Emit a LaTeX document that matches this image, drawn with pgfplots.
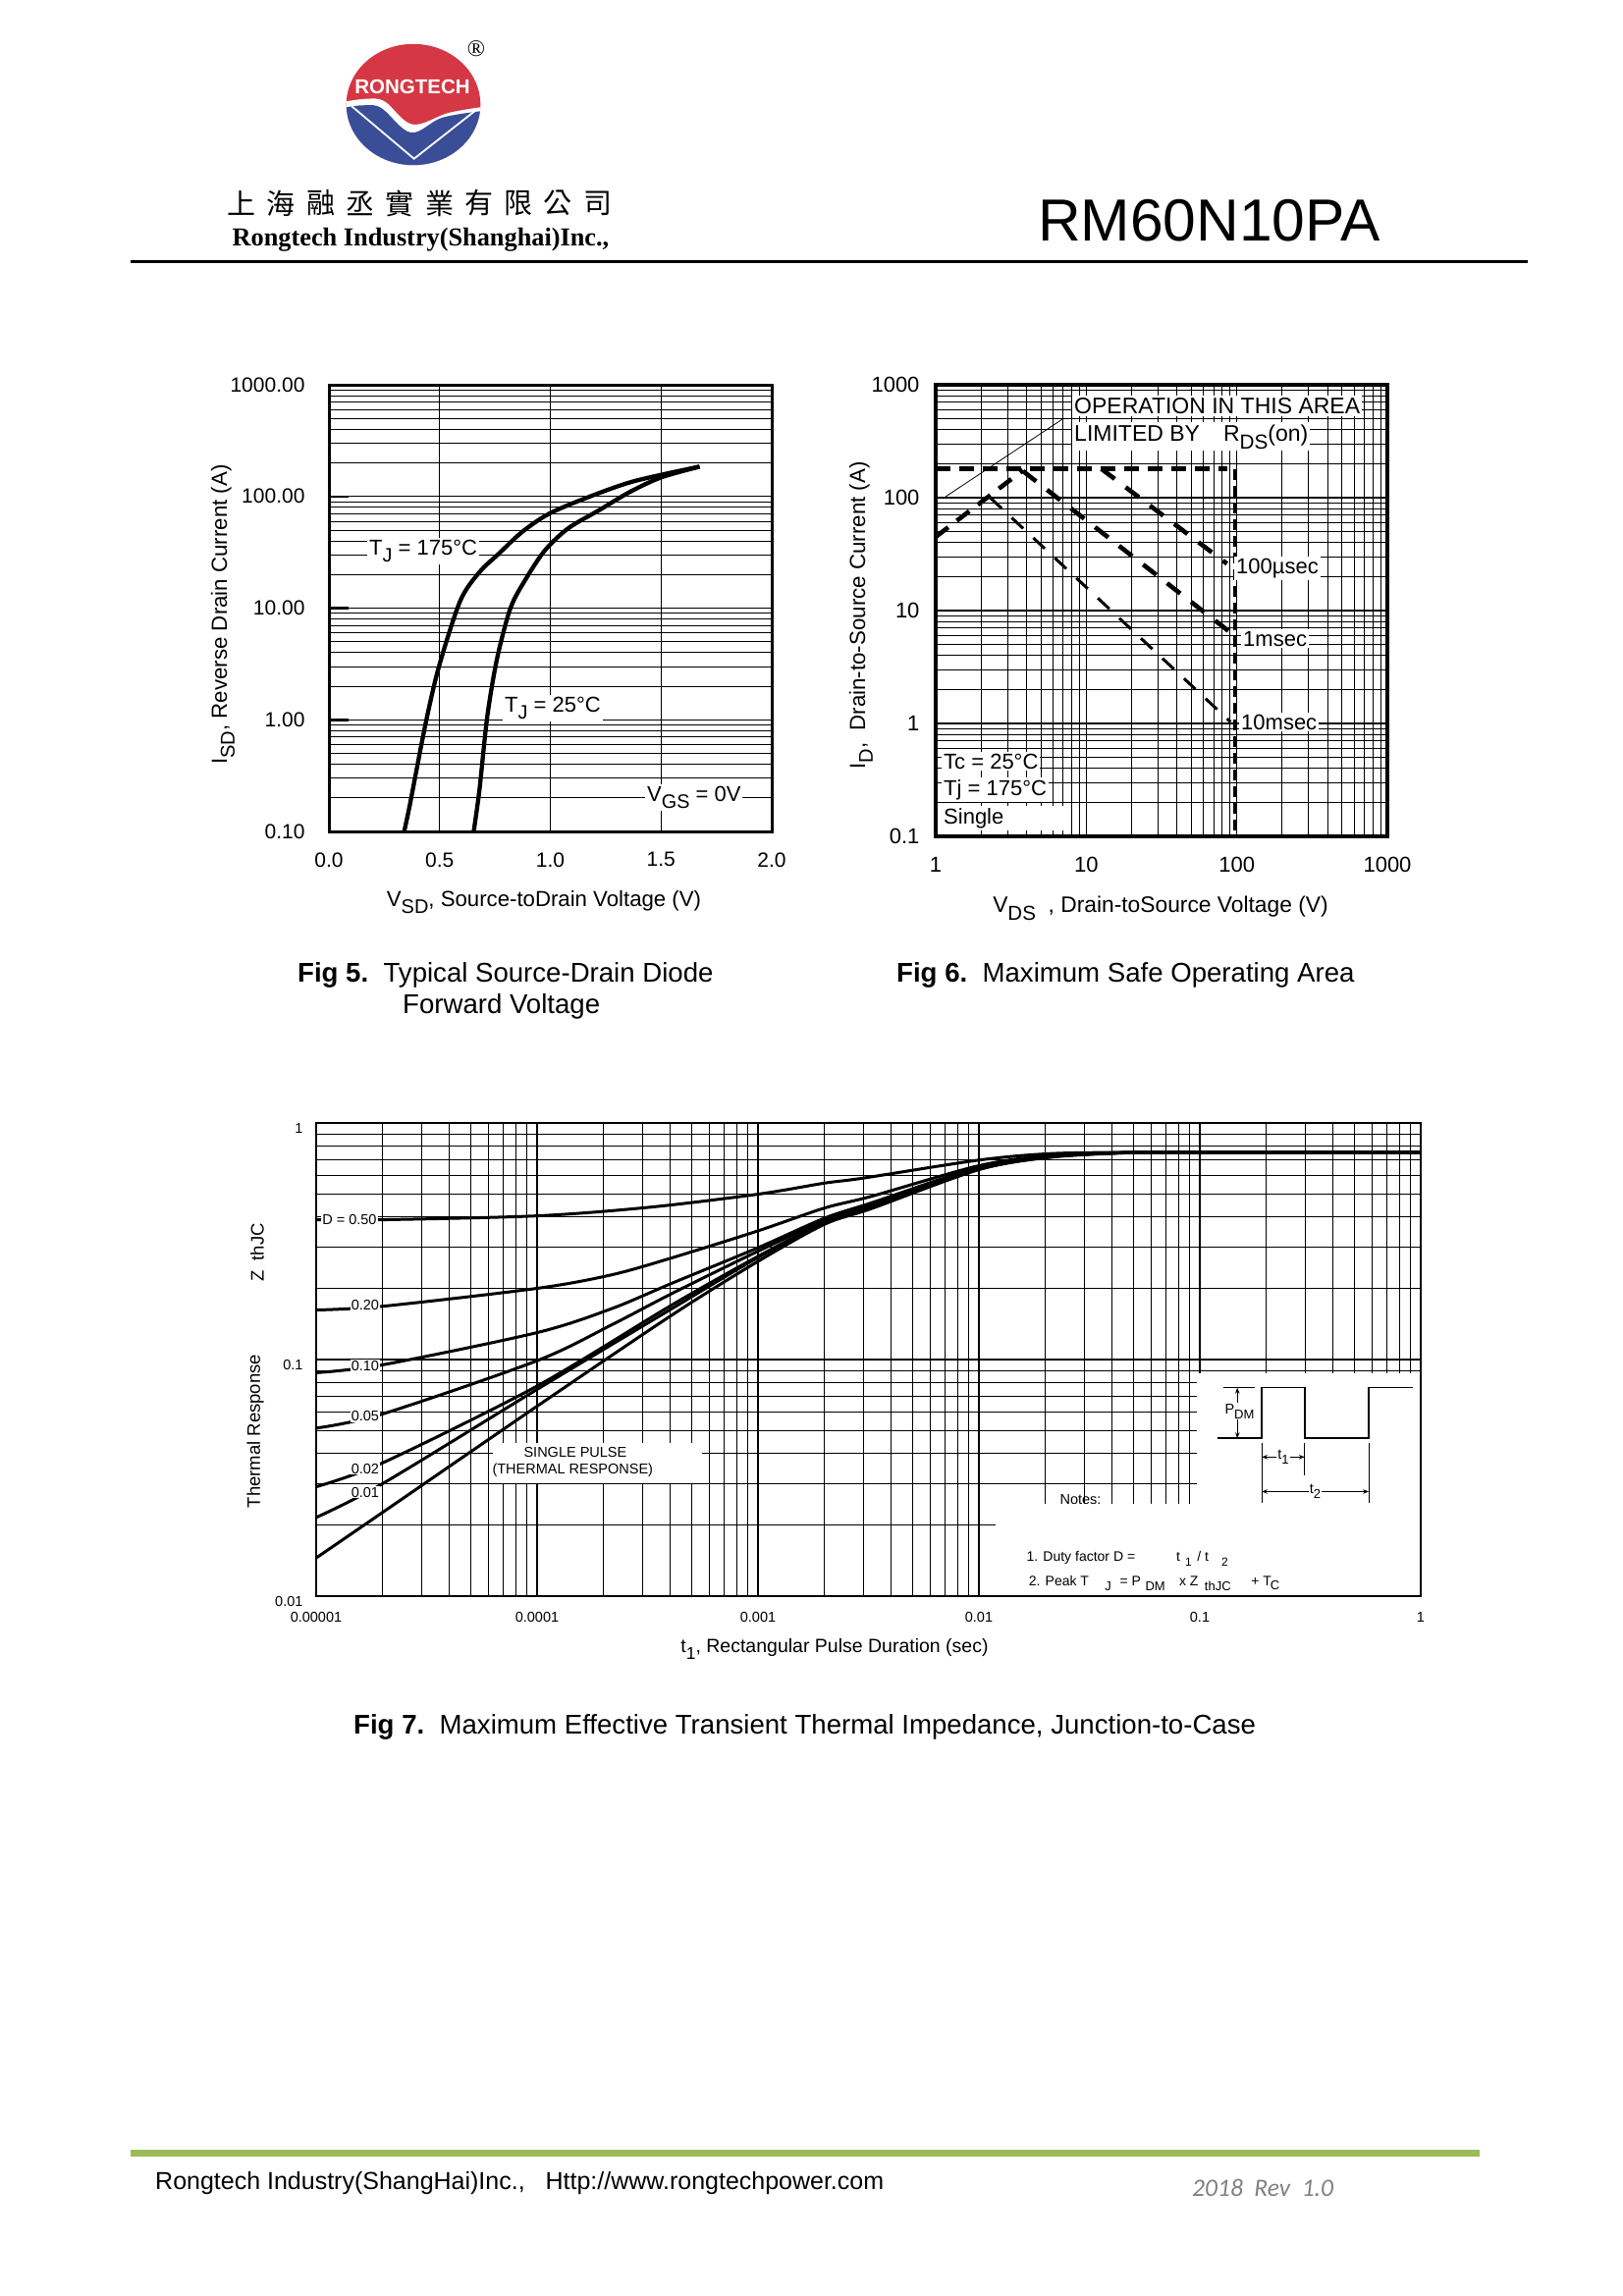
\documentclass[border=0pt]{standalone}
\usepackage{pgfplots}
\pgfplotsset{compat=1.18}
\usepackage{graphicx}
\usepackage{fontspec}
\setmainfont{Liberation Sans}
\newfontfamily\tnr{Liberation Serif}
\newfontfamily\cjk{Noto Sans CJK TC}
\newfontfamily\carlito{Carlito}
\usetikzlibrary{arrows.meta}
\definecolor{logored}{RGB}{214,55,68}
\definecolor{logoblue}{RGB}{58,78,152}
\definecolor{footgreen}{RGB}{155,187,89}
\newcommand{\fs}[1]{\fontsize{#1}{#1}\selectfont}
\newcommand{\sub}[1]{\raisebox{-0.35em}{\scalebox{0.9}{#1}}}
\tikzset{t/.style={inner sep=0pt}, wl/.style={fill=white, inner sep=2pt}}
\begin{document}
\begin{tikzpicture}[x=1pt,y=1pt]
\fill[white] (0,0) rectangle (1653,-2339);
% ---------------- header / logo
\begin{scope}
\clip (421,-106.5) ellipse [x radius=68.3pt, y radius=61.7pt];
\fill[logored] (340,-30) rectangle (500,-180);
\fill[white] (340,-103.3) -- plot[smooth, tension=0.6] coordinates {(353,-103.3) (373.3,-100.7) (391.7,-103.3) (420,-126.7) (456.7,-115) (489.3,-109.3)} -- (500,-109.3) -- (500,-180) -- (340,-180) -- cycle;
\fill[logoblue] (340,-109.3) -- plot[smooth, tension=0.6] coordinates {(352.7,-109.3) (370,-107.3) (388.3,-110) (418.3,-135) (450,-120) (489.3,-113.3)} -- (500,-113.3) -- (500,-180) -- (340,-180) -- cycle;
\draw[white, line width=1.8pt] (358,-108) -- (421.7,-161.7) -- (485,-112);
\end{scope}
\node[t, text=white, font=\fs{20.5}\bfseries] at (420,-88) {RONGTECH};
\node[t, font=\tnr\fs{24}] at (485,-50) {®};
\foreach \ch [count=\i from 0] in {上,海,融,丞,實,業,有,限,公,司}
  \node[t, font=\cjk\fs{29}] at (246+\i*40.3,-207) {\ch};
\node[t, anchor=base, font=\tnr\bfseries\fs{26.3}] at (428.5,-250) {Rongtech Industry(Shanghai)Inc.,};
\node[t, font=\fs{60.5}] at (1231.5,-225) {RM60N10PA};
\draw[line width=3pt] (133,-266) -- (1556,-266);

% ---------------- Fig 5
\begin{axis}[
  at={(335pt,-847pt)}, anchor=south west, scale only axis,
  width=451pt, height=455pt,
  xmin=0, xmax=2, ymode=log, ymin=0.1, ymax=1000,
  xtick={0,0.5,1,1.5,2}, xticklabels={0.0,0.5,1.0,1.5,2.0},
  ytick={0.1,1,10,100,1000}, yticklabels={0.10,1.00,10.00,100.00,1000.00},
  grid=both,
  major grid style={black, line width=1pt},
  minor grid style={black, line width=0.8pt},
  axis line style={line width=3pt},
  tick align=inside, major tick length=20pt, minor tick length=0pt,
  xtick style={draw=none}, ytick style={black, line width=2.5pt},
  ytick pos=left,
  tick label style={font=\fs{21}},
  yticklabel style={xshift=-21pt},
  xticklabel style={yshift=-18pt},
]
\addplot[black, no markers, line width=4.3pt, smooth] coordinates {(0.340,0.1) (0.366,0.175) (0.436,0.91) (0.497,3.0) (0.593,11.6) (0.680,21) (0.767,30.7) (0.872,48) (0.994,70) (1.168,98) (1.378,137) (1.674,185)};
\addplot[black, no markers, line width=4.3pt, smooth] coordinates {(0.654,0.1) (0.680,0.237) (0.715,1.06) (0.759,3.5) (0.820,10) (0.889,18.2) (0.976,33) (1.081,51.9) (1.221,75.5) (1.360,110) (1.500,148) (1.674,185)};
\end{axis}
\node[wl, anchor=base west, font=\fs{22}] at (374,-565) {T\sub{J} = 175°C};
\node[wl, anchor=base west, font=\fs{22}] at (512,-725) {T\sub{J} = 25°C};
\node[wl, anchor=base west, font=\fs{22}] at (657,-816) {V\sub{GS} = 0V};
\draw[line width=3pt] (335,-847) rectangle (786,-392);
\node[t, rotate=90, font=\fs{22.3}] at (227,-626) {I\sub{SD}, Reverse Drain Current (A)};
\node[t, font=\fs{22.2}] at (554,-919) {V\sub{SD}, Source-toDrain Voltage (V)};

% ---------------- Fig 6
\begin{axis}[
  at={(953pt,-852pt)}, anchor=south west, scale only axis,
  width=460pt, height=460pt,
  xmode=log, ymode=log, xmin=1, xmax=1000, ymin=0.1, ymax=1000,
  xtick={1,10,100,1000}, xticklabels={1,10,100,1000},
  ytick={0.1,1,10,100,1000}, yticklabels={0.1,1,10,100,1000},
  grid=both,
  major grid style={black, line width=1.2pt},
  minor grid style={black, line width=0.8pt},
  axis line style={line width=3.5pt},
  tick align=inside, major tick length=20pt, minor tick length=0pt,
  xtick style={draw=none}, ytick style={black, line width=2.5pt}, ytick pos=left,
  tick label style={font=\fs{22}},
  yticklabel style={xshift=-13pt},
  xticklabel style={yshift=-18pt},
]
\addplot[black, no markers, line width=4.6pt, dash pattern=on 15pt off 9pt] coordinates {(1,180) (86,180)};
\addplot[black, no markers, line width=4pt, dash pattern=on 11pt off 6pt] coordinates {(98,180) (98,0.1)};
\addplot[black, no markers, line width=4.6pt, dash pattern=on 16pt off 11pt] coordinates {(1,45) (3.8,175)};
\addplot[black, no markers, line width=4.6pt, dash pattern=on 17pt off 14pt] coordinates {(12.6,180) (86,26)};
\addplot[black, no markers, line width=4.6pt, dash pattern=on 17pt off 14pt] coordinates {(3.8,172) (88,6.6)};
\addplot[black, no markers, line width=3pt, dash pattern=on 16pt off 14pt] coordinates {(2.3,100) (91,1.03)};
\end{axis}
\draw[line width=0.8pt] (963,-506) -- (1083,-426.4);
\node[wl, anchor=base west, font=\fs{23}] at (1092,-421.5) {OPERATION IN THIS AREA};
\node[wl, anchor=base west, font=\fs{23}] at (1092,-449) {LIMITED BY\hspace{24pt}R\sub{DS}(on)};
\node[wl, anchor=base west, font=\fs{22}] at (1257,-584) {100µsec};
\node[wl, anchor=base west, font=\fs{22}] at (1264,-658) {1msec};
\node[wl, anchor=base west, font=\fs{22}] at (1262,-743) {10msec};
\node[wl, anchor=base west, font=\fs{22}] at (959,-783) {Tc = 25°C};
\node[wl, anchor=base west, font=\fs{22}] at (959,-810) {Tj = 175°C};
\node[wl, anchor=base west, font=\fs{22}, text width=120pt] at (959,-839) {Single};
\draw[line width=3.5pt] (953,-852) rectangle (1413,-392);
\node[t, rotate=90, font=\fs{22.3}] at (877,-627) {I\sub{D},\ \ Drain-to-Source Current (A)};
\node[t, font=\fs{22.8}] at (1182,-925) {V\sub{DS}\ \ , Drain-toSource Voltage (V)};

% captions
\node[t, anchor=base west, font=\fs{27.6}] at (303,-1000) {\textbf{Fig 5.}\ \ Typical Source-Drain Diode};
\node[t, anchor=base west, font=\fs{27.6}] at (410,-1032) {Forward Voltage};
\node[t, anchor=base west, font=\fs{27.6}] at (913,-1000) {\textbf{Fig 6.}\ \ Maximum Safe Operating Area};

% ---------------- Fig 7
\begin{axis}[
  at={(322pt,-1626pt)}, anchor=south west, scale only axis,
  width=1125pt, height=482pt,
  xmode=log, ymode=log, xmin=1e-5, xmax=1, ymin=0.01, ymax=1,
  xtick={1e-5,1e-4,1e-3,1e-2,1e-1,1}, xticklabels={0.00001,0.0001,0.001,0.01,0.1,1},
  ytick={0.01,0.1,1}, yticklabels={0.01,0.1,1},
  grid=both,
  major grid style={black, line width=1.1pt},
  minor grid style={black, line width=0.9pt},
  axis line style={line width=2.5pt},
  major tick length=0pt, minor tick length=0pt,
  tick label style={font=\fs{14.5}},
  yticklabel style={xshift=-10pt, yshift=-5pt},
  xticklabel style={yshift=-13pt},
]
\fill[white] (rel axis cs:0.615,0) rectangle (rel axis cs:1,0.195);
\fill[white] (rel axis cs:0.797,0) rectangle (rel axis cs:1,0.472);
\fill[white] (axis cs:6.3e-5,0.0299) rectangle (axis cs:5.56e-4,0.0444);
% D = 0.50
\addplot[black, no markers, line width=3pt, smooth] coordinates {(1e-5,0.39) (2e-5,0.39) (1e-4,0.405) (3.2e-4,0.44) (1e-3,0.50) (2e-3,0.557) (3e-3,0.585) (1e-2,0.697) (2.1e-2,0.742) (4.6e-2,0.751) (0.1,0.752) (0.3,0.752) (1,0.752)};
% D = 0.20
\addplot[black, no markers, line width=3pt, smooth] coordinates {(1e-5,0.162) (2e-5,0.168) (1e-4,0.20) (2.17e-4,0.228) (4.07e-4,0.269) (1e-3,0.35) (2e-3,0.437) (3.27e-3,0.49) (1e-2,0.66) (2.1e-2,0.73) (4.6e-2,0.75) (0.1,0.752) (0.3,0.752) (1,0.752)};
% D = 0.10
\addplot[black, no markers, line width=3pt, smooth] coordinates {(1e-5,0.088) (2e-5,0.095) (1e-4,0.13) (2.17e-4,0.164) (4.07e-4,0.21) (1e-3,0.297) (2e-3,0.396) (3.27e-3,0.46) (1e-2,0.65) (2.1e-2,0.725) (4.6e-2,0.75) (0.1,0.752) (0.3,0.752) (1,0.752)};
% D = 0.05
\addplot[black, no markers, line width=3pt, smooth] coordinates {(1e-5,0.0513) (2e-5,0.0589) (1e-4,0.0989) (2.17e-4,0.14) (4.07e-4,0.19) (1e-3,0.287) (2e-3,0.386) (3.27e-3,0.45) (1e-2,0.645) (2.1e-2,0.722) (4.6e-2,0.75) (0.1,0.752) (0.3,0.752) (1,0.752)};
% D = 0.02
\addplot[black, no markers, line width=3pt, smooth] coordinates {(1e-5,0.029) (2e-5,0.0366) (1e-4,0.0773) (4.07e-4,0.17) (1e-3,0.273) (2e-3,0.38) (3.27e-3,0.445) (1e-2,0.64) (2.1e-2,0.72) (4.6e-2,0.749) (0.1,0.752) (0.3,0.752) (1,0.752)};
% D = 0.01
\addplot[black, no markers, line width=3pt, smooth] coordinates {(1e-5,0.0215) (2e-5,0.0299) (1e-4,0.0748) (4.07e-4,0.164) (1e-3,0.27) (2e-3,0.376) (3.27e-3,0.44) (1e-2,0.637) (2.1e-2,0.718) (4.6e-2,0.748) (0.1,0.752) (0.3,0.752) (1,0.752)};
% single pulse
\addplot[black, no markers, line width=3pt, smooth] coordinates {(1e-5,0.0145) (2e-5,0.0226) (1e-4,0.0635) (4.07e-4,0.154) (1e-3,0.26) (2e-3,0.373) (3.27e-3,0.435) (1e-2,0.635) (2.1e-2,0.716) (4.6e-2,0.748) (0.1,0.752) (0.3,0.752) (1,0.752)};
% curve labels
\node[fill=white, inner sep=1pt, anchor=east, font=\fs{14.5}] at (axis cs:1.9e-5,0.39) {D = 0.50};
\node[fill=white, inner sep=1pt, anchor=east, font=\fs{14.5}] at (axis cs:1.95e-5,0.170) {0.20};
\node[fill=white, inner sep=1pt, anchor=east, font=\fs{14.5}] at (axis cs:1.95e-5,0.094) {0.10};
\node[fill=white, inner sep=1pt, anchor=east, font=\fs{14.5}] at (axis cs:1.95e-5,0.0575) {0.05};
\node[fill=white, inner sep=1pt, anchor=east, font=\fs{14.5}] at (axis cs:1.95e-5,0.0346) {0.02};
\node[fill=white, inner sep=1pt, anchor=east, font=\fs{14.5}] at (axis cs:1.95e-5,0.0275) {0.01};
\node[inner sep=0pt, font=\fs{14.5}] at (axis cs:1.49e-4,0.0407) {SINGLE PULSE};
\node[inner sep=0pt, font=\fs{14.5}] at (axis cs:1.45e-4,0.0340) {(THERMAL RESPONSE)};
% pulse diagram
\draw[line width=1.5pt] (rel axis cs:0.816,0.3336) -- (rel axis cs:0.856,0.3336) -- (rel axis cs:0.856,0.4405) -- (rel axis cs:0.895,0.4405) -- (rel axis cs:0.895,0.3336) -- (rel axis cs:0.953,0.3336) -- (rel axis cs:0.953,0.4405) -- (rel axis cs:0.993,0.4405);
\draw[line width=1.5pt] (rel axis cs:0.821,0.4405) -- (rel axis cs:0.850,0.4405);
\draw[line width=1pt, {Stealth[length=6pt]}-{Stealth[length=6pt]}] (rel axis cs:0.834,0.3336) -- (rel axis cs:0.834,0.4405);
\node[fill=white, inner sep=1pt, font=\fs{14.5}] at (rel axis cs:0.836,0.391) {P\sub{DM}};
\draw[line width=1pt] (rel axis cs:0.856,0.323) -- (rel axis cs:0.856,0.198);
\draw[line width=1pt] (rel axis cs:0.895,0.323) -- (rel axis cs:0.895,0.255);
\draw[line width=1pt] (rel axis cs:0.953,0.323) -- (rel axis cs:0.953,0.198);
\draw[line width=1pt, {Stealth[length=6pt]}-{Stealth[length=6pt]}] (rel axis cs:0.856,0.294) -- (rel axis cs:0.895,0.294);
\node[fill=white, inner sep=1pt, font=\fs{14.5}] at (rel axis cs:0.8755,0.294) {t\sub{1}};
\draw[line width=1pt, {Stealth[length=6pt]}-{Stealth[length=6pt]}] (rel axis cs:0.856,0.221) -- (rel axis cs:0.953,0.221);
\node[fill=white, inner sep=1pt, font=\fs{14.5}] at (rel axis cs:0.9045,0.221) {t\sub{2}};
\node[inner sep=0pt, font=\fs{14.5}] at (rel axis cs:0.692,0.205) {Notes:};
\node[inner sep=0pt, anchor=base west, font=\fs{14}] at (rel axis cs:0.643,0.073) {1. Duty factor D =};
\node[inner sep=0pt, anchor=base west, font=\fs{14}] at (rel axis cs:0.7785,0.073) {t};
\node[inner sep=0pt, anchor=base west, font=\fs{12}] at (rel axis cs:0.7865,0.063) {1};
\node[inner sep=0pt, anchor=base west, font=\fs{14}] at (rel axis cs:0.7975,0.073) {/ t};
\node[inner sep=0pt, anchor=base west, font=\fs{12}] at (rel axis cs:0.8196,0.063) {2};
\node[inner sep=0pt, anchor=base west, font=\fs{14}] at (rel axis cs:0.645,0.022) {2. Peak T};
\node[inner sep=0pt, anchor=base west, font=\fs{13}] at (rel axis cs:0.714,0.011) {J};
\node[inner sep=0pt, anchor=base west, font=\fs{14}] at (rel axis cs:0.7275,0.022) {= P};
\node[inner sep=0pt, anchor=base west, font=\fs{13}] at (rel axis cs:0.7505,0.011) {DM};
\node[inner sep=0pt, anchor=base west, font=\fs{14}] at (rel axis cs:0.7812,0.022) {x Z};
\node[inner sep=0pt, anchor=base west, font=\fs{13}] at (rel axis cs:0.8042,0.011) {thJC};
\node[inner sep=0pt, anchor=base west, font=\fs{14}] at (rel axis cs:0.8464,0.022) {+ T};
\node[inner sep=0pt, anchor=base west, font=\fs{13}] at (rel axis cs:0.8637,0.013) {C};
\end{axis}
\draw[line width=2.5pt] (322,-1626) rectangle (1447,-1144);
\node[t, rotate=90, font=\fs{18.5}] at (260,-1458) {Thermal Response};
\node[t, rotate=90, font=\fs{18.5}] at (262,-1276) {Z\ \ thJC};
\node[t, font=\fs{19.5}] at (850,-1680) {t\sub{1}, Rectangular Pulse Duration (sec)};
\node[t, anchor=base west, font=\fs{27.6}] at (360,-1766) {\textbf{Fig 7.}\ \ Maximum Effective Transient Thermal Impedance, Junction-to-Case};

% ---------------- footer
\fill[footgreen] (133,-2190) rectangle (1507,-2197);
\node[t, anchor=base west, font=\fs{25}] at (158,-2230) {Rongtech Industry(ShangHai)Inc.,\ \ \ Http://www.rongtechpower.com};
\node[t, anchor=base west, font=\carlito\itshape\fs{25.5}, text=black!50] at (1214,-2237) {2018\ \ Rev\ \ 1.0};
\end{tikzpicture}
\end{document}
